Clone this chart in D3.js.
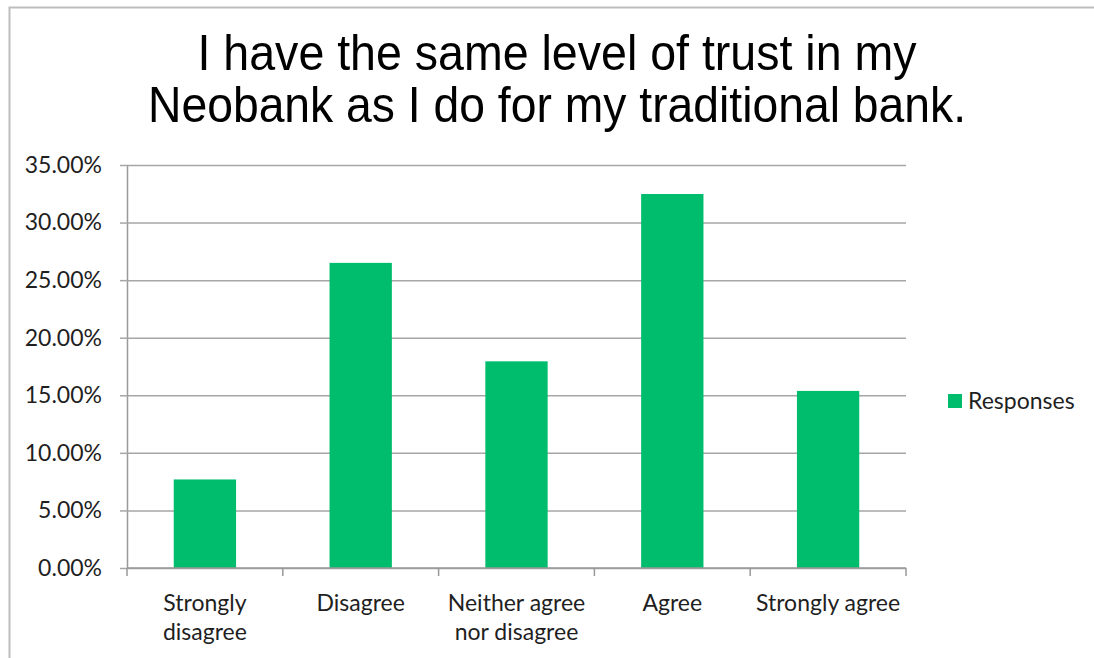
<!DOCTYPE html>
<html>
<head>
<meta charset="utf-8">
<script src="https://cdn.jsdelivr.net/npm/d3@7"></script>
<style>
    body { margin: 0; background: #fff; }
    svg { display: block; }
    .axis text { font-family: Lato, 'Open Sans', sans-serif; font-size: 23px; fill: #1f1f1f; }
    .title { font-family: 'Liberation Sans', Arial, sans-serif; font-size: 50px; fill: #000; }
</style>
</head>
<body>
<svg class="chart" width="1094" height="658"></svg>
<script>
const categories = ['Strongly disagree', 'Disagree', 'Neither agree nor disagree', 'Agree', 'Strongly agree'];
const tickLabels = [['Strongly', 'disagree'], ['Disagree'], ['Neither agree', 'nor disagree'], ['Agree'], ['Strongly agree']];
const responses = [7.69, 26.5, 17.95, 32.48, 15.38];
const yTicks = [0, 5, 10, 15, 20, 25, 30, 35];
const titleLines = ['I have the same level of trust in my', 'Neobank as I do for my traditional bank.'];
const titleWidths = [719, 818];
const seriesName = 'Responses';

const margin = { top: 165, right: 188, bottom: 90, left: 127 };
const svg = d3.select('.chart');
const W = 1094;
const H = 658;
const width = W - margin.left - margin.right;
const height = H - margin.top - margin.bottom;
const green = '#00bd6e';

// frame
svg.append('path')
    .attr('d', `M9.5,${H} V7.5 H${W}`)
    .attr('fill', 'none')
    .attr('stroke', '#bdbdbd')
    .attr('stroke-width', 2);

svg.selectAll('.title')
    .data(titleLines)
    .enter()
    .append('text')
    .attr('class', 'title')
    .attr('x', 557)
    .attr('y', (d, i) => 70 + i * 52)
    .attr('text-anchor', 'middle')
    .attr('textLength', (d, i) => titleWidths[i])
    .attr('lengthAdjust', 'spacingAndGlyphs')
    .text((d) => d);

const g = svg.append('g').attr('transform', `translate(${margin.left},${margin.top})`);

const x = d3.scaleBand().domain(categories).range([0, width]).paddingInner(0.6).paddingOuter(0.3);
const xEdge = d3.scaleLinear().domain([0, categories.length]).range([0, width]);
const y = d3.scaleLinear().domain([0, 35]).range([height, 0]);

const axisY = d3.axisLeft(y)
    .tickValues(yTicks)
    .tickFormat((d) => d3.format('.2f')(d) + '%')
    .tickSizeInner(-width)
    .tickSizeOuter(0)
    .tickPadding(25);

const gy = g.append('g').attr('class', 'axis axis-y').call(axisY);
gy.attr('font-size', null).attr('font-family', null);
gy.select('.domain').attr('stroke', '#999').attr('stroke-width', 1.5);
gy.selectAll('.tick line').attr('stroke', '#a6a6a6').attr('stroke-width', 1.5);
gy.selectAll('.tick')
    .append('line')
    .attr('x1', -7)
    .attr('x2', 0)
    .attr('stroke', '#a6a6a6')
    .attr('stroke-width', 1.5);

g.selectAll('.bar')
    .data(responses)
    .enter()
    .append('rect')
    .attr('class', 'bar')
    .attr('x', (d, i) => x(categories[i]))
    .attr('width', x.bandwidth())
    .attr('y', (d) => y(d))
    .attr('height', (d) => height - y(d))
    .attr('fill', green);

// x axis line + boundary ticks
const gx = g.append('g').attr('class', 'axis axis-x').attr('transform', `translate(0,${height})`);
gx.append('line')
    .attr('x1', 0)
    .attr('x2', width)
    .attr('stroke', '#999')
    .attr('stroke-width', 1.5);
gx.selectAll('.edge')
    .data(d3.range(categories.length + 1))
    .enter()
    .append('line')
    .attr('class', 'edge')
    .attr('x1', (d) => xEdge(d))
    .attr('x2', (d) => xEdge(d))
    .attr('y1', 0)
    .attr('y2', 8)
    .attr('stroke', '#999')
    .attr('stroke-width', 1.5);

const labels = gx.selectAll('.lbl')
    .data(tickLabels)
    .enter()
    .append('text')
    .attr('class', 'lbl')
    .attr('text-anchor', 'middle')
    .attr('x', (d, i) => x(categories[i]) + x.bandwidth() / 2)
    .attr('y', 43);

labels.selectAll('tspan')
    .data((d) => d)
    .enter()
    .append('tspan')
    .attr('x', function () { return d3.select(this.parentNode).attr('x'); })
    .attr('dy', (d, i) => (i === 0 ? 0 : 29))
    .text((d) => d);

// legend
const legend = svg.append('g').attr('class', 'axis legend').attr('transform', 'translate(948,401)');
legend.append('rect').attr('x', 0).attr('y', -7).attr('width', 14).attr('height', 14).attr('fill', green);
legend.append('text').attr('x', 20).attr('y', 8).text(seriesName);
</script>
</body>
</html>
